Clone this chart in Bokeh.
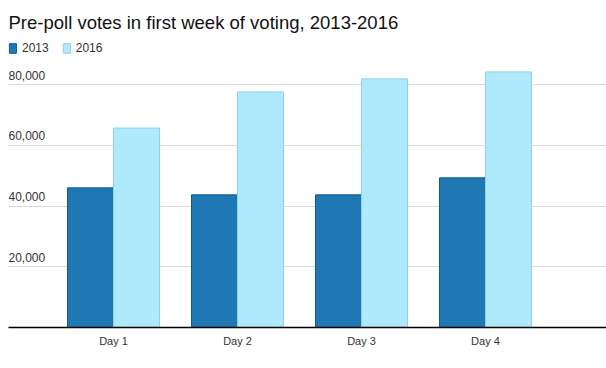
from bokeh.plotting import figure
from bokeh.models import ColumnDataSource, Range1d, FixedTicker, Legend, LegendItem
from bokeh.embed import file_html
from bokeh.resources import INLINE
from bokeh.core.properties import value

# ---- data ----
categories = ["Day 1", "Day 2", "Day 3", "Day 4"]
votes_2013 = [46000, 43700, 43700, 49300]
votes_2016 = [65700, 77600, 81900, 84200]
y_ticks = [20000, 40000, 60000, 80000]
y_tick_labels = ["20,000", "40,000", "60,000", "80,000"]
series_names = ["2013", "2016"]

FONT = "Liberation Sans"
C2013, C2013_LINE = "#1f77b4", "#0b5d96"
C2016, C2016_LINE = "#aeeafc", "#8ed1e6"

xpos = list(range(1, len(categories) + 1))
BAR_W = 0.371
X_START, X_END = 0.153, 4.976
Y_END = 95200

src = ColumnDataSource(dict(
    x13=[x - BAR_W / 2 for x in xpos],
    x16=[x + BAR_W / 2 for x in xpos],
    v13=votes_2013,
    v16=votes_2016,
))

p = figure(width=606, height=362, output_backend="svg", toolbar_location=None,
           x_range=Range1d(X_START, X_END), y_range=Range1d(0, Y_END),
           min_border_left=8, min_border_right=0, min_border_bottom=35,
           min_border_top=38)
p.outline_line_color = None
p.background_fill_color = "white"
p.border_fill_color = "white"

r13 = p.vbar(x="x13", top="v13", width=BAR_W, source=src,
             fill_color=C2013, line_color=C2013_LINE, line_width=1)
r16 = p.vbar(x="x16", top="v16", width=BAR_W, source=src,
             fill_color=C2016, line_color=C2016_LINE, line_width=1)

# grid
p.xgrid.visible = False
p.ygrid.ticker = FixedTicker(ticks=y_ticks)
p.ygrid.grid_line_color = "#d9d9d9"
p.ygrid.grid_line_width = 1

# y axis hidden; labels drawn above grid lines
p.yaxis.visible = False
tsrc = ColumnDataSource(dict(x=[X_START] * len(y_ticks), y=y_ticks, t=y_tick_labels))
p.text(x="x", y="y", text="t", source=tsrc, text_font=value(FONT),
       text_font_size="12px", text_color="#333333", text_baseline="bottom",
       text_align="left", y_offset=-5)

# x axis
p.xaxis.ticker = FixedTicker(ticks=xpos)
p.xaxis.major_label_overrides = {x: c for x, c in zip(xpos, categories)}
p.xaxis.axis_line_color = "black"
p.xaxis.axis_line_width = 1.5
p.xaxis.major_tick_line_color = None
p.xaxis.major_tick_out = 0
p.xaxis.major_tick_in = 0
p.xaxis.minor_tick_line_color = None
p.xaxis.major_label_text_font = FONT
p.xaxis.major_label_text_font_size = "11px"
p.xaxis.major_label_text_color = "#333333"
p.xaxis.major_label_standoff = 7

# legend inside frame, top-left
legend = Legend(items=[LegendItem(label=series_names[0], renderers=[r13]),
                       LegendItem(label=series_names[1], renderers=[r16])],
                orientation="horizontal", location=(0, 272),
                glyph_width=9, glyph_height=12, label_standoff=5, spacing=13,
                padding=0, margin=0, border_line_color=None,
                background_fill_alpha=0,
                label_text_font=FONT, label_text_font_size="12px",
                label_text_color="#333333", label_height=12)
p.add_layout(legend)

# title
p.title.text = "Pre-poll votes in first week of voting, 2013-2016"
p.title.text_font = FONT
p.title.text_font_size = "18.5px"
p.title.text_font_style = "normal"
p.title.text_color = "#111111"
p.title.offset = 0
p.title.standoff = 11

open("out.html", "w").write(file_html(p, INLINE))
